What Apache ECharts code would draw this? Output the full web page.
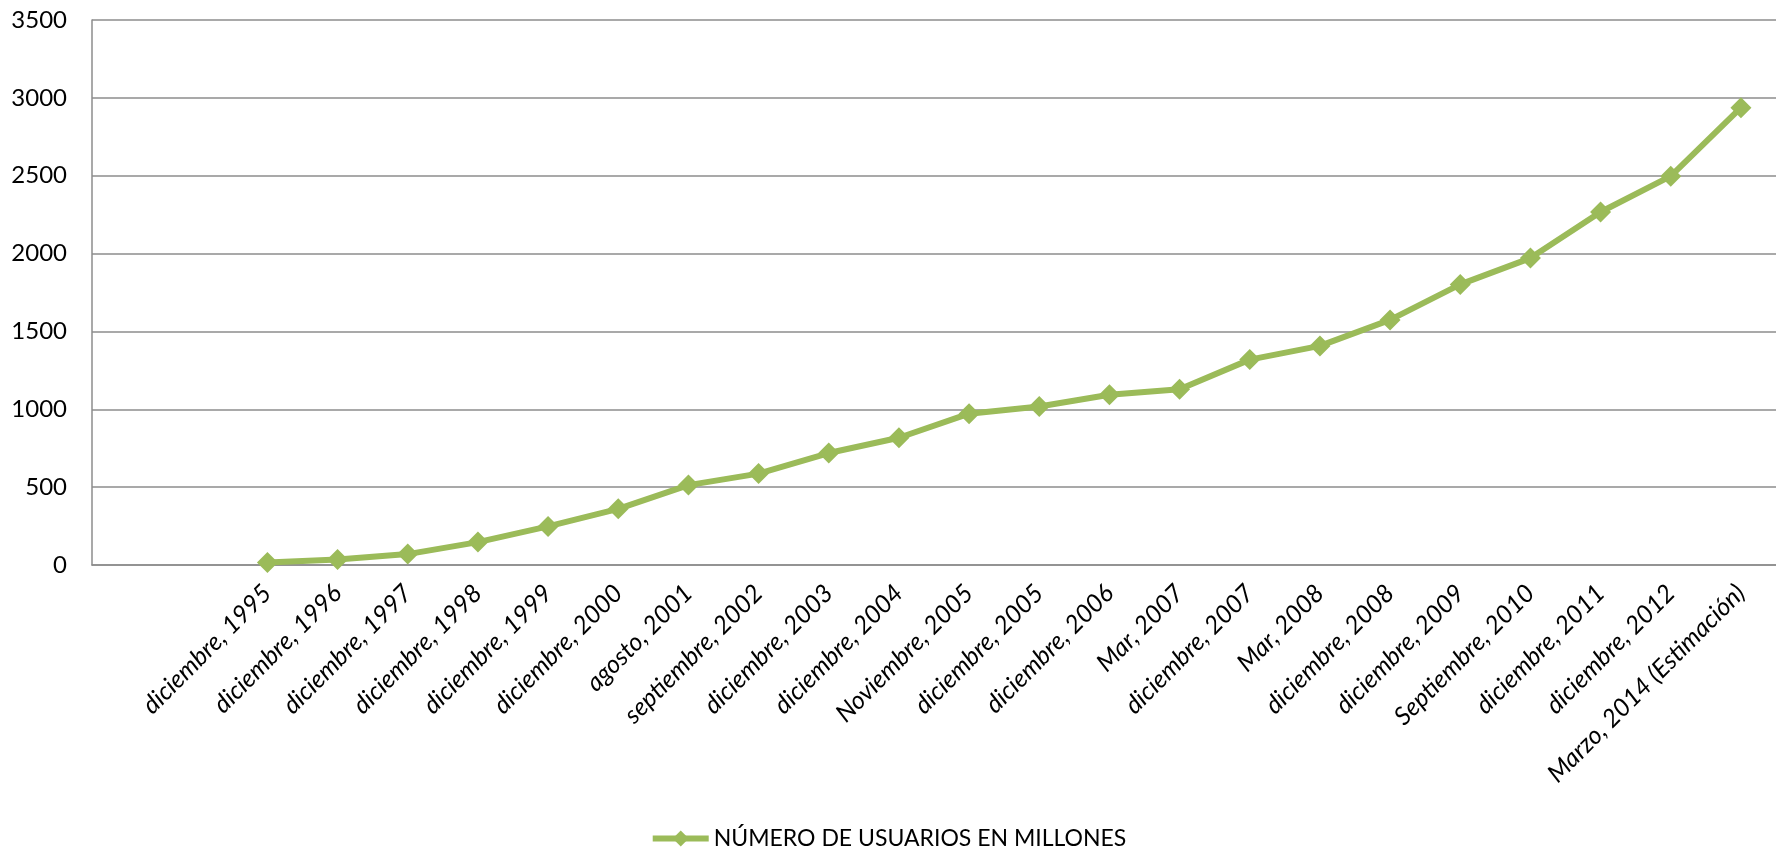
<!DOCTYPE html>
<html>
<head>
<meta charset="utf-8">
<script src="https://cdn.jsdelivr.net/npm/echarts@6/dist/echarts.min.js"></script>
<style>
  html, body { margin: 0; padding: 0; background: #fff; }
  #chart { width: 1776px; height: 856px; }
</style>
</head>
<body>
<div id="chart"></div>
<script>
// two blank slots at the start, as in the original sheet
var categories = ['', '',
  'diciembre, 1995', 'diciembre, 1996', 'diciembre, 1997', 'diciembre, 1998',
  'diciembre, 1999', 'diciembre, 2000', 'agosto, 2001', 'septiembre, 2002',
  'diciembre, 2003', 'diciembre, 2004', 'Noviembre, 2005', 'diciembre, 2005',
  'diciembre, 2006', 'Mar, 2007', 'diciembre, 2007', 'Mar, 2008',
  'diciembre, 2008', 'diciembre, 2009', 'Septiembre, 2010', 'diciembre, 2011',
  'diciembre, 2012', 'Marzo, 2014 (Estimación)'];
var usuarios = [null, null,
  16, 36, 70, 147, 248, 361, 513, 587, 719, 817, 972, 1018,
  1093, 1129, 1319, 1407, 1574, 1802, 1971, 2267, 2497, 2937];
var serieNombre = 'NÚMERO DE USUARIOS EN MILLONES';
var yMin = 0, yMax = 3500, yStep = 500;

var verde = '#9bbb59';
var gris = '#8c8c8c';
var fuente = 'Lato, "Open Sans", sans-serif';

var chart = echarts.init(document.getElementById('chart'));
chart.setOption({
  animation: false,
  backgroundColor: '#fff',
  grid: { left: 92, right: -5, top: 20, bottom: 291 },
  legend: {
    bottom: 1,
    left: 'center',
    itemWidth: 56,
    itemHeight: 20,
    itemGap: 6,
    lineStyle: { width: 6 },
    textStyle: { fontFamily: fuente, fontSize: 23, color: '#000' },
    data: [serieNombre]
  },
  xAxis: {
    type: 'category',
    data: categories,
    boundaryGap: true,
    axisLine: { lineStyle: { color: gris, width: 1.5 } },
    axisTick: { show: false },
    axisLabel: {
      interval: 0,
      rotate: 45,
      margin: 24,
      fontFamily: fuente,
      fontStyle: 'italic',
      fontSize: 25,
      color: '#000'
    }
  },
  yAxis: {
    type: 'value',
    min: yMin,
    max: yMax,
    interval: yStep,
    axisLine: { show: true, lineStyle: { color: gris, width: 1.5 } },
    axisTick: { show: false },
    axisLabel: {
      margin: 25,
      fontFamily: fuente,
      fontSize: 24,
      color: '#000',
      formatter: function (v) { return String(v); }
    },
    splitLine: { lineStyle: { color: gris, width: 1.5 } }
  },
  series: [{
    name: serieNombre,
    type: 'line',
    data: usuarios,
    symbol: 'diamond',
    symbolSize: 21,
    lineStyle: { color: verde, width: 6 },
    itemStyle: { color: verde }
  }]
});
</script>
</body>
</html>
